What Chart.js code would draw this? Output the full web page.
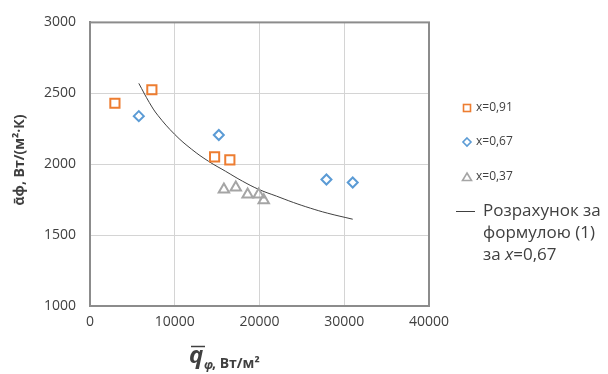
<!DOCTYPE html>
<html lang="uk">
<head>
<meta charset="UTF-8">
<script src="https://cdn.jsdelivr.net/npm/chart.js@4"></script>
<style>
  body { margin: 0; background: #fff; }
  canvas { display: block; }
</style>
</head>
<body>
<canvas id="grafik" width="608" height="374"></canvas>
<script>
// дані
var q091 = [2940, 7300, 14700, 16500];
var a091 = [2430, 2525, 2052, 2031];

var q067 = [5760, 15200, 27900, 31000];
var a067 = [2339, 2206, 1892, 1871];

var q037 = [15800, 17200, 18600, 19900, 20500];
var a037 = [1822, 1836, 1787, 1787, 1745];

// розрахункова крива (1) за x=0,67
var qCalc = [5760, 7000, 8000, 10000, 12000, 14000, 16000, 18000, 20000, 22000, 24000, 26000, 28000, 31000];
var aCalc = [2570, 2435, 2345, 2210, 2105, 2020, 1950, 1880, 1820, 1775, 1730, 1690, 1655, 1612];

var legendLabels = ['x=0,91', 'x=0,67', 'x=0,37'];

function pts(xs, ys) {
    return xs.map(function(x, i) { return {x: x, y: ys[i]}; });
}

var orange = '#ED7D31', blue = '#5B9BD5', grey = '#A5A5A5';

// підписи осей і легенда малюються вручну
var extras = {
    id: 'extras',
    afterDraw: function(chart) {
        var ctx = chart.ctx;
        ctx.save();
        ctx.fillStyle = '#404040';
        ctx.textBaseline = 'middle';

        // вісь Y
        ctx.save();
        ctx.translate(20, 160);
        ctx.rotate(-Math.PI / 2);
        ctx.textAlign = 'center';
        ctx.font = 'bold 14px "Open Sans"';
        ctx.fillText('ᾱф, Вт/(м²·К)', 0, 0);
        ctx.restore();

        // вісь X
        ctx.textAlign = 'left';
        ctx.font = 'italic bold 24px "Open Sans"';
        ctx.fillText('q', 189, 356);
        ctx.font = 'italic bold 12px "Open Sans"';
        ctx.fillText('φ', 204, 366);
        ctx.strokeStyle = '#404040';
        ctx.lineWidth = 1.5;
        ctx.beginPath();
        ctx.moveTo(191, 346.5);
        ctx.lineTo(205, 346.5);
        ctx.stroke();
        ctx.font = 'bold 14px "Open Sans"';
        ctx.fillText(', Вт/м²', 212, 364);

        // легенда
        ctx.lineWidth = 1.6;
        ctx.strokeStyle = orange;
        ctx.strokeRect(463.5, 104.5, 7, 7);
        ctx.strokeStyle = blue;
        ctx.beginPath();
        ctx.moveTo(467, 138); ctx.lineTo(471, 142); ctx.lineTo(467, 146); ctx.lineTo(463, 142); ctx.closePath();
        ctx.stroke();
        ctx.strokeStyle = grey;
        ctx.beginPath();
        ctx.moveTo(467, 173); ctx.lineTo(471.5, 180.5); ctx.lineTo(462.5, 180.5); ctx.closePath();
        ctx.stroke();

        ctx.font = '12px "Open Sans"';
        ctx.fillText(legendLabels[0], 476, 108);
        ctx.fillText(legendLabels[1], 476, 142);
        ctx.fillText(legendLabels[2], 476, 177);

        ctx.strokeStyle = '#404040';
        ctx.lineWidth = 1;
        ctx.beginPath();
        ctx.moveTo(456, 211.5); ctx.lineTo(475, 211.5);
        ctx.stroke();
        ctx.font = '17px "Open Sans"';
        ctx.fillText('Розрахунок за', 483, 211);
        ctx.fillText('формулою (1)', 483, 233);
        ctx.fillText('за ', 483, 255);
        var w = ctx.measureText('за ').width;
        ctx.font = 'italic 17px "Open Sans"';
        ctx.fillText('x', 483 + w, 255);
        var w2 = ctx.measureText('x').width;
        ctx.font = '17px "Open Sans"';
        ctx.fillText('=0,67', 483 + w + w2, 255);
        ctx.restore();
    }
};

var data = {
    datasets: [
    {
        label: legendLabels[0],
        data: pts(q091, a091),
        pointStyle: 'rect',
        pointRadius: 6.5,
        borderColor: orange,
        backgroundColor: 'rgba(0,0,0,0)',
        borderWidth: 2
    },
    {
        label: legendLabels[1],
        data: pts(q067, a067),
        pointStyle: 'rectRot',
        pointRadius: 5,
        borderColor: blue,
        backgroundColor: 'rgba(0,0,0,0)',
        borderWidth: 2
    },
    {
        label: legendLabels[2],
        data: pts(q037, a037),
        pointStyle: 'triangle',
        pointRadius: 6,
        borderColor: grey,
        backgroundColor: 'rgba(0,0,0,0)',
        borderWidth: 2
    },
    {
        label: 'Розрахунок за формулою (1) за x=0,67',
        data: pts(qCalc, aCalc),
        showLine: true,
        pointRadius: 0,
        borderColor: '#404040',
        borderWidth: 1,
        tension: 0.4
    }
    ]
};

var tickFont = {family: '"Open Sans"', size: 14};

var options = {
    responsive: false,
    animation: false,
    layout: {
        padding: {left: 0, right: 179, top: 20, bottom: 0}
    },
    plugins: {
        legend: {display: false},
        tooltip: {enabled: false}
    },
    scales: {
        x: {
            type: 'linear',
            min: 0,
            max: 40000,
            ticks: {
                stepSize: 10000,
                color: '#404040',
                font: tickFont,
                padding: 8,
                callback: function(v) { return String(v); }
            },
            grid: {color: '#d4d4d4', lineWidth: 1, drawTicks: false},
            border: {display: true, color: '#8c8c8c', width: 2},
            afterFit: function(s) { s.height = 68; }
        },
        y: {
            min: 1000,
            max: 3000,
            ticks: {
                stepSize: 500,
                color: '#404040',
                font: tickFont,
                padding: 14,
                callback: function(v) { return String(v); }
            },
            grid: {color: '#d4d4d4', lineWidth: 1, drawTicks: false},
            border: {display: true, color: '#8c8c8c', width: 2},
            afterFit: function(s) { s.width = 90; }
        }
    }
};

// рамка області побудови
var frame = {
    id: 'frame',
    afterDatasetsDraw: function(chart) {
        var a = chart.chartArea, ctx = chart.ctx;
        ctx.save();
        ctx.strokeStyle = '#8c8c8c';
        ctx.lineWidth = 2;
        ctx.strokeRect(a.left, a.top, a.right - a.left, a.bottom - a.top);
        ctx.restore();
    }
};

new Chart('grafik', {type: 'scatter', data: data, options: options, plugins: [frame, extras]});
</script>
</body>
</html>
